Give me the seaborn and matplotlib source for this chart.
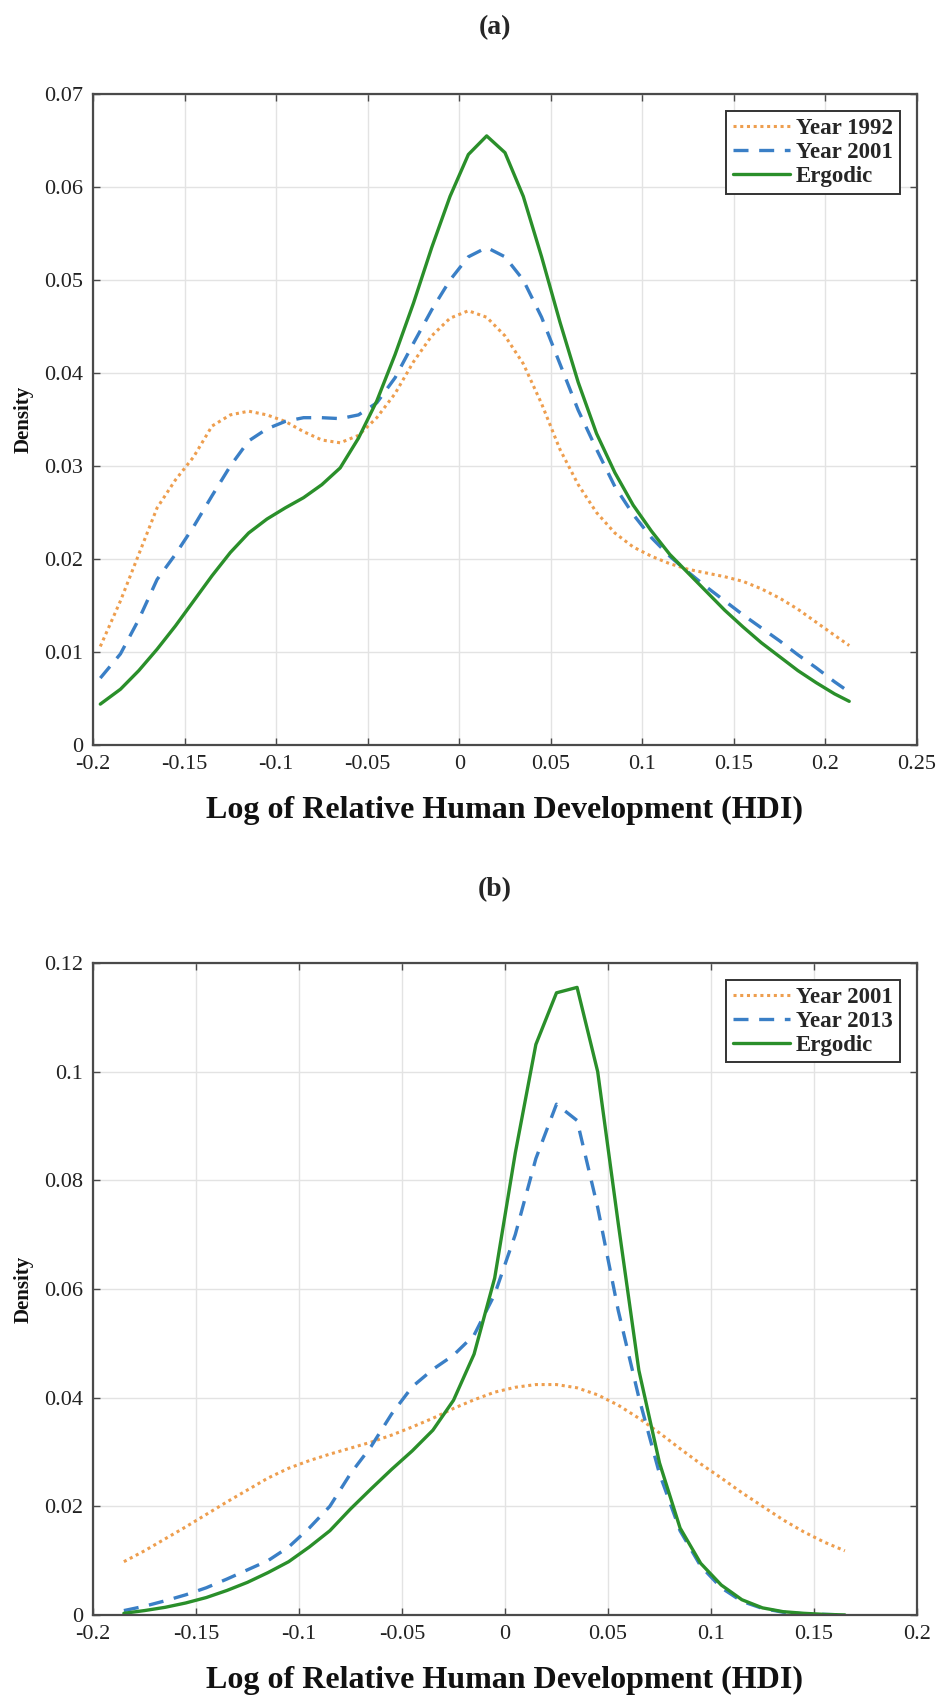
import numpy as np
import pandas as pd
import matplotlib
matplotlib.use("Agg")
import matplotlib.pyplot as plt
import seaborn as sns

# ---------------- data: panel (a) ----------------
x_a = [-0.196, -0.185, -0.175, -0.165, -0.155, -0.145, -0.135, -0.125, -0.115, -0.105,
       -0.095, -0.085, -0.075, -0.065, -0.055, -0.045, -0.035, -0.025, -0.015, -0.005,
       0.005, 0.015, 0.025, 0.035, 0.045, 0.055, 0.065, 0.075, 0.085, 0.095,
       0.105, 0.115, 0.125, 0.135, 0.145, 0.155, 0.165, 0.175, 0.185, 0.195,
       0.205, 0.213]
year1992_a = [0.0106, 0.0155, 0.0205, 0.0255, 0.0285, 0.0310, 0.0343, 0.0355, 0.0359, 0.0355,
              0.0348, 0.0337, 0.0328, 0.0325, 0.0333, 0.0352, 0.0378, 0.0412, 0.0440, 0.0459,
              0.0467, 0.0460, 0.0440, 0.0410, 0.0367, 0.0318, 0.0280, 0.0250, 0.0228, 0.0213,
              0.0203, 0.0195, 0.0189, 0.0185, 0.0181, 0.0176, 0.0168, 0.0158, 0.0146, 0.0132,
              0.0118, 0.0107]
year2001_a = [0.0072, 0.0098, 0.0135, 0.0178, 0.0205, 0.0235, 0.0268, 0.0300, 0.0327, 0.0340,
              0.0348, 0.0352, 0.0352, 0.0351, 0.0355, 0.0368, 0.0395, 0.0432, 0.0468, 0.0500,
              0.0525, 0.0535, 0.0525, 0.0500, 0.0460, 0.0410, 0.0360, 0.0318, 0.0278, 0.0248,
              0.0223, 0.0203, 0.0186, 0.0170, 0.0155, 0.0140, 0.0126, 0.0112, 0.0097, 0.0083,
              0.0068, 0.0057]
ergodic_a = [0.0044, 0.0060, 0.0080, 0.0103, 0.0128, 0.0155, 0.0182, 0.0207, 0.0228, 0.0243,
             0.0255, 0.0266, 0.0280, 0.0298, 0.0330, 0.0370, 0.0420, 0.0475, 0.0535, 0.0590,
             0.0635, 0.0655, 0.0637, 0.0590, 0.0525, 0.0455, 0.0390, 0.0335, 0.0293, 0.0258,
             0.0230, 0.0205, 0.0185, 0.0165, 0.0145, 0.0127, 0.0110, 0.0095, 0.0080, 0.0067,
             0.0055, 0.0047]

# ---------------- data: panel (b) ----------------
x_b = [-0.185, -0.175, -0.165, -0.155, -0.145, -0.135, -0.125, -0.115, -0.105, -0.095,
       -0.085, -0.075, -0.065, -0.055, -0.045, -0.035, -0.025, -0.015, -0.005, 0.005,
       0.015, 0.025, 0.035, 0.045, 0.055, 0.065, 0.075, 0.085, 0.095, 0.105,
       0.115, 0.125, 0.135, 0.145, 0.155, 0.165]
year2001_b = [0.0098, 0.0118, 0.0140, 0.0162, 0.0185, 0.0208, 0.0230, 0.0252, 0.0270, 0.0284,
              0.0296, 0.0307, 0.0318, 0.0331, 0.0346, 0.0362, 0.0380, 0.0396, 0.0410, 0.0419,
              0.0424, 0.0424, 0.0418, 0.0405, 0.0386, 0.0362, 0.0335, 0.0306, 0.0278, 0.0252,
              0.0225, 0.0200, 0.0175, 0.0153, 0.0134, 0.0118]
year2013_b = [0.0008, 0.0016, 0.0026, 0.0037, 0.0050, 0.0066, 0.0083, 0.0100, 0.0125, 0.0160,
              0.0200, 0.0260, 0.0310, 0.0370, 0.0420, 0.0452, 0.0478, 0.0515, 0.0590, 0.0700,
              0.0840, 0.0940, 0.0910, 0.0750, 0.0560, 0.0400, 0.0260, 0.0155, 0.0090, 0.0050,
              0.0025, 0.0012, 0.0005, 0.0002, 0.0001, 0.0000]
ergodic_b = [0.0003, 0.0008, 0.0014, 0.0022, 0.0032, 0.0045, 0.0060, 0.0078, 0.0098, 0.0125,
             0.0155, 0.0195, 0.0232, 0.0268, 0.0302, 0.0340, 0.0395, 0.0480, 0.0620, 0.0850,
             0.1050, 0.1145, 0.1155, 0.1000, 0.0720, 0.0450, 0.0280, 0.0160, 0.0095, 0.0055,
             0.0028, 0.0013, 0.0006, 0.0003, 0.0001, 0.0000]

xticks_a = [-0.2, -0.15, -0.1, -0.05, 0, 0.05, 0.1, 0.15, 0.2, 0.25]
xticklabels_a = ["-0.2", "-0.15", "-0.1", "-0.05", "0", "0.05", "0.1", "0.15", "0.2", "0.25"]
yticks_a = [0, 0.01, 0.02, 0.03, 0.04, 0.05, 0.06, 0.07]
yticklabels_a = ["0", "0.01", "0.02", "0.03", "0.04", "0.05", "0.06", "0.07"]
xticks_b = [-0.2, -0.15, -0.1, -0.05, 0, 0.05, 0.1, 0.15, 0.2]
xticklabels_b = ["-0.2", "-0.15", "-0.1", "-0.05", "0", "0.05", "0.1", "0.15", "0.2"]
yticks_b = [0, 0.02, 0.04, 0.06, 0.08, 0.1, 0.12]
yticklabels_b = ["0", "0.02", "0.04", "0.06", "0.08", "0.1", "0.12"]

labels_a = ["Year 1992", "Year 2001", "Ergodic"]
labels_b = ["Year 2001", "Year 2013", "Ergodic"]
xlabel = "Log of Relative Human Development (HDI)"

# ---------------- style ----------------
sns.set_theme(style="whitegrid")
plt.rcParams["font.family"] = ["Liberation Serif", "DejaVu Serif"]

ORANGE = "#EE9E4E"
BLUE = "#3A7FC6"
GREEN = "#2A8F2A"

fig = plt.figure(figsize=(9.43, 17.01), dpi=100)
ax_a = fig.add_axes([0.0986, 0.5620, 0.8738, 0.3827])
ax_b = fig.add_axes([0.0986, 0.0506, 0.8738, 0.3833])


def draw(ax, x, series, labels, xticks, xtl, yticks, ytl, xlim, ylim):
    styles = [
        dict(color=ORANGE, linestyle=(0, (1.0, 1.2)), linewidth=2.2),
        dict(color=BLUE, linestyle=(0, (4.5, 3.2)), linewidth=2.4),
        dict(color=GREEN, linestyle="-", linewidth=2.4),
    ]
    for vals, lab, st in zip(series, labels, styles):
        df = pd.DataFrame({"x": x, "y": vals})
        sns.lineplot(data=df, x="x", y="y", ax=ax, label=lab, sort=False,
                     estimator=None, **st)
    ax.set_xlim(*xlim)
    ax.set_ylim(*ylim)
    ax.set_xticks(xticks)
    ax.set_xticklabels(xtl)
    ax.set_yticks(yticks)
    ax.set_yticklabels(ytl)
    ax.set_facecolor("white")
    ax.grid(True, color="#E3E3E3", linewidth=1.0)
    for sp in ax.spines.values():
        sp.set_visible(True)
        sp.set_color("#4A4A4A")
        sp.set_linewidth(1.6)
    ax.tick_params(direction="in", length=5, width=1.0, colors="#4A4A4A",
                   top=True, right=True, bottom=True, left=True,
                   labelsize=16, labelcolor="#222222", pad=7)
    ax.set_xlabel(xlabel, fontsize=23, fontweight="bold", color="#111111", labelpad=16)
    ax.set_ylabel("Density", fontsize=15, fontweight="bold", color="#111111", labelpad=8)
    leg = ax.legend(loc="upper right", frameon=True, fancybox=False,
                    edgecolor="#333333", framealpha=1.0,
                    prop={"weight": "bold", "size": 16.5},
                    handlelength=2.5, borderpad=0.3, labelspacing=0.12,
                    handletextpad=0.25, borderaxespad=0.75)
    leg.get_frame().set_linewidth(1.4)


draw(ax_a, x_a, [year1992_a, year2001_a, ergodic_a], labels_a,
     xticks_a, xticklabels_a, yticks_a, yticklabels_a, (-0.2, 0.25), (0, 0.07))
draw(ax_b, x_b, [year2001_b, year2013_b, ergodic_b], labels_b,
     xticks_b, xticklabels_b, yticks_b, yticklabels_b, (-0.2, 0.2), (0, 0.12))

fig.text(0.525, 1 - 28 / 1701, "(a)", ha="center", va="center",
         fontsize=20, fontweight="bold")
fig.text(0.525, 1 - 890 / 1701, "(b)", ha="center", va="center",
         fontsize=20, fontweight="bold")

fig.savefig("out.png", dpi=100, facecolor="white")
